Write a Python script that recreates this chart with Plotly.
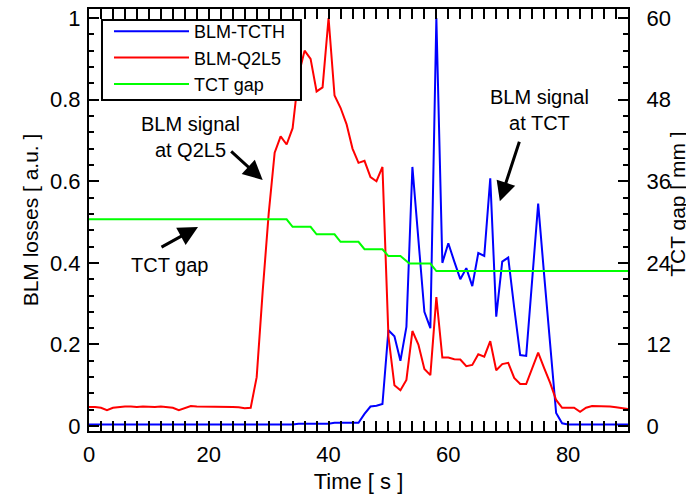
import plotly.graph_objects as go

# ---------------- data ----------------
time_s = [0, 1, 2, 3, 4, 5, 6, 7, 8, 9,
          10, 11, 12, 13, 14, 15, 16, 17, 18, 19,
          20, 21, 22, 23, 24, 25, 26, 27, 28, 29,
          30, 31, 32, 33, 34, 35, 36, 37, 38, 39,
          40, 41, 42, 43, 44, 45, 46, 47, 48, 49,
          50, 51, 52, 53, 54, 55, 56, 57, 58, 59,
          60, 61, 62, 63, 64, 65, 66, 67, 68, 69,
          70, 71, 72, 73, 74, 75, 76, 77, 78, 79,
          80, 81, 82, 83, 84, 85, 86, 87, 88, 89,
          90]

blm_tcth = [0.004, 0.004, 0.004, 0.004, 0.004, 0.004, 0.004, 0.004, 0.004, 0.004,
            0.004, 0.004, 0.004, 0.004, 0.004, 0.004, 0.004, 0.004, 0.004, 0.004,
            0.004, 0.004, 0.004, 0.004, 0.004, 0.004, 0.004, 0.004, 0.004, 0.004,
            0.004, 0.004, 0.004, 0.004, 0.004, 0.006, 0.006, 0.006, 0.006, 0.006,
            0.006, 0.008, 0.008, 0.008, 0.008, 0.008, 0.03, 0.048, 0.05, 0.054,
            0.235, 0.22, 0.16, 0.243, 0.635, 0.45, 0.28, 0.24, 1.0, 0.40,
            0.448, 0.403, 0.36, 0.387, 0.343, 0.424, 0.417, 0.607, 0.268, 0.403,
            0.413, 0.29, 0.174, 0.172, 0.35, 0.545, 0.37, 0.2, 0.032, 0.007,
            0.004, 0.004, 0.004, 0.004, 0.004, 0.004, 0.004, 0.004, 0.004, 0.004,
            0.004]

blm_q2l5 = [0.047, 0.047, 0.045, 0.039, 0.045, 0.047, 0.048, 0.048, 0.047, 0.048,
            0.047, 0.047, 0.048, 0.046, 0.045, 0.039, 0.045, 0.049, 0.048, 0.048,
            0.048, 0.047, 0.047, 0.047, 0.047, 0.046, 0.044, 0.045, 0.12, 0.33,
            0.52, 0.67, 0.71, 0.69, 0.73, 0.86, 0.92, 0.90, 0.82, 0.83,
            1.0, 0.81, 0.78, 0.74, 0.68, 0.645, 0.65, 0.61, 0.60, 0.635,
            0.22, 0.10, 0.088, 0.113, 0.233, 0.20, 0.14, 0.125, 0.316, 0.168,
            0.168, 0.164, 0.163, 0.147, 0.15, 0.176, 0.17, 0.208, 0.137, 0.152,
            0.155, 0.118, 0.103, 0.103, 0.14, 0.18, 0.142, 0.106, 0.064, 0.045,
            0.045, 0.045, 0.035, 0.045, 0.049, 0.049, 0.049, 0.048, 0.046, 0.044,
            0.042]

gap_time = [0, 33, 34, 37, 38, 41, 42, 45, 46, 49, 50, 52, 53.5, 57, 58, 90]
tct_gap_mm = [30.4, 30.4, 29.3, 29.3, 28.2, 28.2, 27.1, 27.1, 26.0, 26.0,
              25.0, 25.0, 23.9, 23.9, 22.8, 22.8]

left_ticks = [0, 0.2, 0.4, 0.6, 0.8, 1]
right_ticks = [0, 12, 24, 36, 48, 60]
x_ticks = [0, 20, 40, 60, 80]

# ---------------- figure ----------------
FONT = "Liberation Sans, Arial, Helvetica, sans-serif"

fig = go.Figure()
fig.add_trace(go.Scatter(x=time_s, y=blm_tcth, name="BLM-TCTH", mode="lines",
                         line=dict(color="#0000ff", width=2)))
fig.add_trace(go.Scatter(x=time_s, y=blm_q2l5, name="BLM-Q2L5", mode="lines",
                         line=dict(color="#ff0000", width=2)))
fig.add_trace(go.Scatter(x=gap_time, y=tct_gap_mm, name="TCT gap", mode="lines",
                         line=dict(color="#00ff00", width=2), yaxis="y2"))

axis_common = dict(
    showline=True, linecolor="black", linewidth=2,
    ticks="inside", ticklen=10, tickwidth=2, tickcolor="black",
    showgrid=False, zeroline=False, automargin=False,
    tickfont=dict(family=FONT, size=22, color="black"),
)

fig.update_layout(
    template="none",
    width=686, height=495,
    margin=dict(l=89, r=58, t=9, b=64, autoexpand=False),
    paper_bgcolor="white", plot_bgcolor="white",
    font=dict(family=FONT, color="black"),
    showlegend=True,
    legend=dict(
        x=0.0371, y=0.9905, xanchor="left", yanchor="top",
        bgcolor="rgba(0,0,0,0)", borderwidth=0,
        font=dict(family=FONT, size=18, color="black"),
        itemwidth=75, tracegroupgap=0,
    ),
    shapes=[dict(type="rect", xref="paper", yref="paper",
                 x0=0.0241, x1=0.3933, y0=0.7844, y1=0.974,
                 line=dict(color="black", width=2), fillcolor="white", layer="above")],
    xaxis=dict(
        range=[0, 90], tickvals=x_ticks, mirror="allticks",
        minor=dict(dtick=2, ticks="inside", ticklen=5, tickwidth=1.5, tickcolor="black", showgrid=False),
        title=dict(text="Time [ s ]", font=dict(family=FONT, size=22, color="black"), standoff=7),
        ticklabelstandoff=3,
        **axis_common,
    ),
    yaxis=dict(
        range=[-0.012, 1.022], tickvals=left_ticks,
        minor=dict(dtick=0.04, tick0=0, ticks="inside", ticklen=5, tickwidth=1.5, tickcolor="black", showgrid=False),
        title=dict(text="BLM losses [ a.u. ]", font=dict(family=FONT, size=21, color="black"), standoff=6),
        ticklabelstandoff=2,
        **axis_common,
    ),
    yaxis2=dict(
        range=[-0.72, 61.32], tickvals=right_ticks, overlaying="y", side="right",
        minor=dict(dtick=2.4, tick0=0, ticks="inside", ticklen=5, tickwidth=1.5, tickcolor="black", showgrid=False),
        ticklabelstandoff=12,
        **axis_common,
    ),
)

ann_font = dict(family=FONT, size=20, color="black")
annotations = [
    dict(x=16.9, y=0.708, text="BLM signal<br>at Q2L5", showarrow=False, font=ann_font),
    dict(x=29.0, y=0.603, ax=-33, ay=-30, text="", showarrow=True,
         arrowhead=2, arrowwidth=3, arrowsize=1.3, arrowcolor="black"),
    dict(x=75.3, y=0.775, text="BLM signal<br>at TCT", showarrow=False, font=ann_font),
    dict(x=68.6, y=0.551, ax=20, ay=-61, text="", showarrow=True,
         arrowhead=2, arrowwidth=3, arrowsize=1.3, arrowcolor="black"),
    dict(x=13.5, y=0.395, text="TCT gap", showarrow=False, font=ann_font),
    dict(x=18.2, y=0.488, ax=-38, ay=21, text="", showarrow=True,
         arrowhead=2, arrowwidth=3, arrowsize=1.3, arrowcolor="black"),
    dict(xref="paper", yref="paper", x=1.0928, y=0.536, xanchor="center", yanchor="middle",
         text="TCT gap [ mm ]", textangle=-90, showarrow=False,
         font=dict(family=FONT, size=21, color="black")),
]
fig.update_layout(annotations=annotations)

fig.write_html("out.html")
